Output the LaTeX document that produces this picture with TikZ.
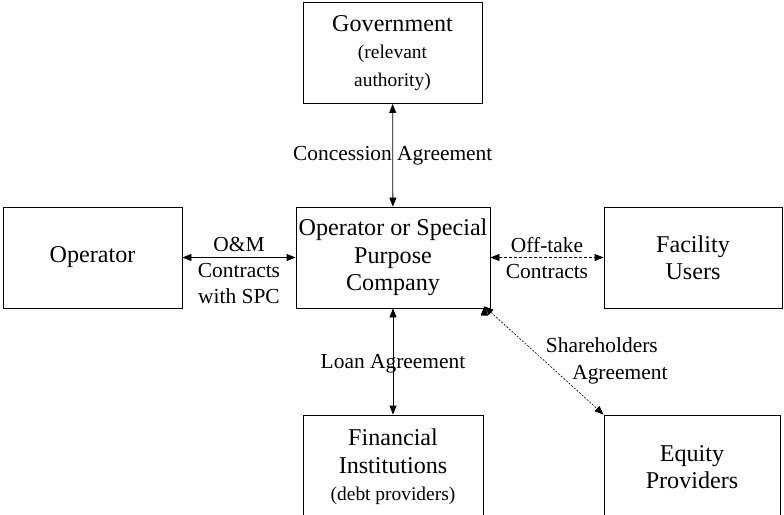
\documentclass[tikz,border=0pt]{standalone}
\usepackage{fontspec}
\setmainfont{Liberation Serif}
\usetikzlibrary{arrows.meta}
\newcommand{\mainfs}{\fontsize{24.2}{27.5}\selectfont}
\newcommand{\smallfs}{\fontsize{19.5}{23.5}\selectfont}
\newcommand{\labelfs}{\fontsize{21.5}{27}\selectfont}
\tikzset{
	party/.style={draw, line width=0.8bp, minimum height=101bp, align=center, font=\mainfs, inner sep=2bp},
	tie/.style={line width=0.8bp, {Triangle[length=9bp,width=7bp]}-{Triangle[length=9bp,width=7bp]}},
	lbl/.style={font=\labelfs, align=center, inner sep=2bp}
}
\begin{document}
\begin{tikzpicture}[x=1bp,y=-1bp]
	\useasboundingbox (0,0) rectangle (784,515);
	\node[party,minimum width=179bp] (gov) at (392.5,53) {Government\\\smallfs(relevant\\\smallfs authority)};
	\node[party,minimum width=179bp] (op) at (92.5,257.5) {Operator};
	\node[party,minimum width=194bp] (spc) at (393,257.5) {Operator or Special\\Purpose\\Company};
	\node[party,minimum width=178bp] (fac) at (693,257.5) {Facility\\Users};
	\node[party,minimum width=180bp,minimum height=104bp] (fin) at (393,467) {Financial\\Institutions\\\smallfs(debt providers)};
	\node[party,minimum width=176bp,minimum height=104bp] (eq) at (692,467) {Equity\\Providers};
	\draw[tie] (gov) edge node[lbl] (cl) {Concession Agreement} (spc);
	\draw[tie] (spc) edge node[lbl,yshift=-2bp] (ll) {Loan Agreement} (fin);
	\draw[tie] (op) edge node[lbl,above,yshift=3bp] (oml) {O\&M} node[lbl,below,yshift=-3bp] (omc) {Contracts\\with SPC} (spc);
	\draw[tie,dash pattern=on 3bp off 2bp] (spc) edge node[lbl,above,yshift=2bp] (otl) {Off-take} node[lbl,below,yshift=-4bp] (otc) {Contracts} (fac);
	\draw[tie,line width=0.6bp,dash pattern=on 2bp off 1.5bp] ([xshift=-6bp,yshift=2bp]spc.south east) edge node[lbl,anchor=west,xshift=-10bp,yshift=0bp] (shl) {Shareholders\\\hspace*{36bp}Agreement} (eq.north west);
\end{tikzpicture}
\end{document}
